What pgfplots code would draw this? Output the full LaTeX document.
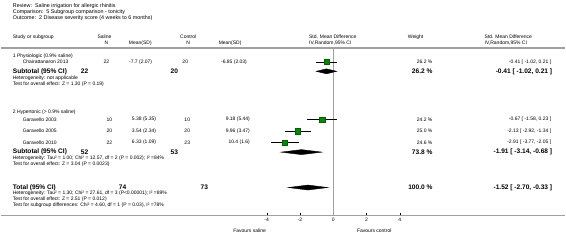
\documentclass[border=0pt]{standalone}
\usepackage{fontspec}
\setmainfont{Liberation Sans}
\usepackage{pgfplots}
\usepackage{pgfplotstable}
\pgfplotsset{compat=1.18}
\newcommand\s{\fontsize{5}{6}\selectfont}
\newcommand\hd{\fontsize{5.4}{6}\selectfont}
\newcommand\bb{\fontsize{6.6}{7}\selectfont\bfseries}
\definecolor{sqgreen}{RGB}{0,140,0}
\definecolor{rule}{RGB}{160,160,160}
\pgfplotstableread{
row est lo hi
-62 -0.41 -1.02 0.21
-120 -0.67 -1.58 0.23
-131.5 -2.13 -2.92 -1.34
-143 -2.91 -3.77 -2.05
}\studies
\begin{document}
\begin{tikzpicture}
\begin{axis}[at={(0,0)}, anchor=south west, scale only axis, width=566pt, height=248pt,
  xmin=0, xmax=566, ymin=-248, ymax=0, hide axis, clip=false]
\path (axis cs:0,-248) rectangle (axis cs:566,0);
\draw[rule, line width=1.4pt] (axis cs:0,-48) -- (axis cs:566,-48);
\draw[rule, line width=1.4pt] (axis cs:0,-216) -- (axis cs:566,-216);
\tikzset{every node/.style={inner sep=0pt}}
% title block
\node[anchor=west] at (axis cs:12,-6) {\hd Review:\ \ Saline irrigation for allergic rhinitis};
\node[anchor=west] at (axis cs:12,-12) {\hd Comparison:\ \ 5 Subgroup comparison - tonicity};
\node[anchor=west] at (axis cs:12,-18.5) {\hd Outcome:\ \ 2 Disease severity score (4 weeks to 6 months)};
% headers
\node[anchor=west] at (axis cs:12,-37) {\s Study or subgroup};
\node at (axis cs:104,-37) {\s Saline};
\node at (axis cs:106,-43) {\s N};
\node at (axis cs:140,-43) {\s Mean(SD)};
\node at (axis cs:188,-37) {\s Control};
\node at (axis cs:188,-43) {\s N};
\node at (axis cs:230,-43) {\s Mean(SD)};
\node[anchor=west] at (axis cs:309,-37) {\s Std. Mean Difference};
\node[anchor=west] at (axis cs:309,-43) {\s IV,Random,95\% CI};
\node[anchor=west] at (axis cs:408,-37) {\s Weight};
\node[anchor=west] at (axis cs:485,-37) {\s Std. Mean Difference};
\node[anchor=west] at (axis cs:485,-43) {\s IV,Random,95\% CI};
% subgroup 1
\node[anchor=west] at (axis cs:12,-56) {\s 1 Physiologic (0.9\% saline)};
\node[anchor=west] at (axis cs:22,-62) {\s Chairattanaron 2013};
\node[anchor=east] at (axis cs:109,-62) {\s 22};
\node[anchor=east] at (axis cs:152,-62) {\s -7.7 (2.07)};
\node[anchor=east] at (axis cs:188,-62) {\s 20};
\node[anchor=east] at (axis cs:247,-62) {\s -6.85 (2.03)};
\node[anchor=east] at (axis cs:433,-62) {\s 26.2 \%};
\node[anchor=east] at (axis cs:552,-62) {\s -0.41 [ -1.02, 0.21 ]};
\node[anchor=west] at (axis cs:12,-71.5) {\bb Subtotal (95\% CI)};
\node[anchor=east] at (axis cs:88,-71.5) {\bb 22};
\node[anchor=east] at (axis cs:178,-71.5) {\bb 20};
\node[anchor=east] at (axis cs:433,-71.5) {\bb 26.2 \%};
\node[anchor=east] at (axis cs:553,-71.5) {\bb -0.41 [ -1.02, 0.21 ]};
\node[anchor=west] at (axis cs:12,-78) {\s Heterogeneity: not applicable};
\node[anchor=west] at (axis cs:12,-84) {\s Test for overall effect: Z = 1.30 (P = 0.19)};
% subgroup 2
\node[anchor=west] at (axis cs:12,-112) {\s 2 Hypertonic (> 0.9\% saline)};
\node[anchor=west] at (axis cs:22,-120) {\s Garavello 2003};
\node[anchor=east] at (axis cs:112,-120) {\s 10};
\node[anchor=east] at (axis cs:156,-120) {\s 5.38 (5.35)};
\node[anchor=east] at (axis cs:190,-120) {\s 10};
\node[anchor=east] at (axis cs:250,-120) {\s 9.18 (5.44)};
\node[anchor=east] at (axis cs:433,-120) {\s 24.2 \%};
\node[anchor=east] at (axis cs:552,-120) {\s -0.67 [ -1.58, 0.23 ]};
\node[anchor=west] at (axis cs:22,-131.5) {\s Garavello 2005};
\node[anchor=east] at (axis cs:112,-131.5) {\s 20};
\node[anchor=east] at (axis cs:156,-131.5) {\s 3.54 (2.34)};
\node[anchor=east] at (axis cs:190,-131.5) {\s 20};
\node[anchor=east] at (axis cs:250,-131.5) {\s 9.96 (3.47)};
\node[anchor=east] at (axis cs:433,-131.5) {\s 25.0 \%};
\node[anchor=east] at (axis cs:552,-131.5) {\s -2.13 [ -2.92, -1.34 ]};
\node[anchor=west] at (axis cs:22,-143) {\s Garavello 2010};
\node[anchor=east] at (axis cs:112,-143) {\s 22};
\node[anchor=east] at (axis cs:156,-143) {\s 6.33 (1.09)};
\node[anchor=east] at (axis cs:190,-143) {\s 23};
\node[anchor=east] at (axis cs:250,-143) {\s 10.4 (1.6)};
\node[anchor=east] at (axis cs:433,-143) {\s 24.6 \%};
\node[anchor=east] at (axis cs:552,-143) {\s -2.91 [ -3.77, -2.05 ]};
\node[anchor=west] at (axis cs:12,-152.5) {\bb Subtotal (95\% CI)};
\node[anchor=east] at (axis cs:88,-152.5) {\bb 52};
\node[anchor=east] at (axis cs:178,-152.5) {\bb 53};
\node[anchor=east] at (axis cs:433,-152.5) {\bb 73.8 \%};
\node[anchor=east] at (axis cs:553,-152.5) {\bb -1.91 [ -3.14, -0.68 ]};
\node[anchor=west] at (axis cs:12,-159) {\s Heterogeneity: Tau² = 1.00; Chi² = 12.57, df = 2 (P = 0.002); I² =84\%};
\node[anchor=west] at (axis cs:12,-165) {\s Test for overall effect: Z = 3.04 (P = 0.0023)};
% total
\node[anchor=west] at (axis cs:12,-188) {\bb Total (95\% CI)};
\node[anchor=east] at (axis cs:126,-188) {\bb 74};
\node[anchor=east] at (axis cs:208,-188) {\bb 73};
\node[anchor=east] at (axis cs:433,-188) {\bb 100.0 \%};
\node[anchor=east] at (axis cs:553,-188) {\bb -1.52 [ -2.70, -0.33 ]};
\node[anchor=west] at (axis cs:12,-194) {\s Heterogeneity: Tau² = 1.30; Chi² = 27.61, df = 3 (P<0.00001); I² =89\%};
\node[anchor=west] at (axis cs:12,-200) {\s Test for overall effect: Z = 2.51 (P = 0.012)};
\node[anchor=west] at (axis cs:12,-206) {\s Test for subgroup differences: Chi² = 4.60, df = 1 (P = 0.03), I² =78\%};
% favours
\node[anchor=east] at (axis cs:266,-231) {\s Favours saline};
\node[anchor=west] at (axis cs:357,-231) {\s Favours control};
\end{axis}
\begin{axis}[at={(266.667pt,32pt)}, anchor=south west, scale only axis,
  width=133.333pt, height=168pt, xmin=-4, xmax=4, ymin=-216, ymax=-48,
  axis y line=none, axis x line*=bottom, x axis line style={draw=none},
  xtick={-4,-2,0,2,4}, xticklabels={-4,-2,0,2,4}, tick align=inside,
  major tick length=2pt, tick style={black, line width=0.4pt},
  xticklabel style={font=\s, inner sep=1pt, yshift=-1pt}, clip=false]
\addplot[rule, line width=0.6pt] coordinates {(0,-48) (0,-216)};
\addplot[only marks, mark=square*, mark size=2.7pt,
  mark options={fill=sqgreen, draw=sqgreen!70!black},
  error bars/.cd, x dir=both, x explicit,
  error bar style={black, line width=0.5pt}, error mark=none]
  table[x=est, y=row, x error minus expr=\thisrow{est}-\thisrow{lo},
        x error plus expr=\thisrow{hi}-\thisrow{est}] \studies;
\addplot[fill=black, draw=black] coordinates {(-1.02,-71.5) (-0.41,-69) (0.21,-71.5) (-0.41,-74)} -- cycle;
\addplot[fill=black, draw=black] coordinates {(-3.14,-152.5) (-1.91,-150) (-0.68,-152.5) (-1.91,-155)} -- cycle;
\addplot[fill=black, draw=black] coordinates {(-2.70,-188) (-1.52,-185.5) (-0.33,-188) (-1.52,-190.5)} -- cycle;
\end{axis}
\end{tikzpicture}
\end{document}
